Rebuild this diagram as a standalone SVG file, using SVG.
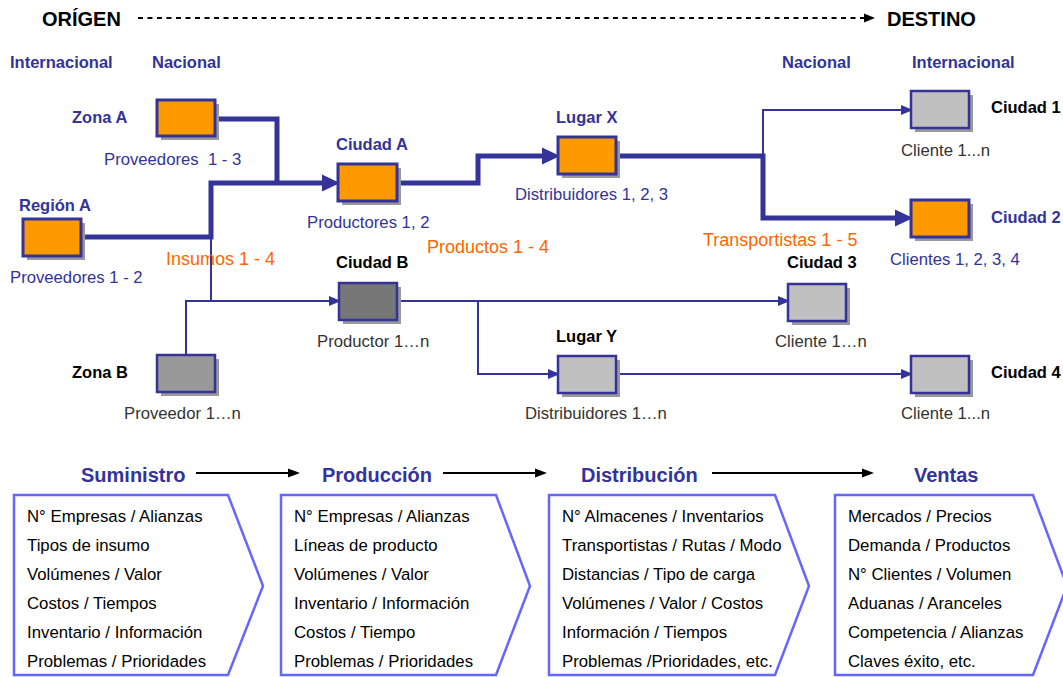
<svg xmlns="http://www.w3.org/2000/svg" width="1063" height="677" viewBox="0 0 1063 677">
<defs>
<style>
text{font-family:"Liberation Sans",Arial,sans-serif;}
.h{font-size:20px;font-weight:bold;fill:#000;}
.lvl{font-size:16.5px;font-weight:bold;fill:#333399;}
.nb{font-size:16.5px;font-weight:bold;fill:#333399;}
.nk{font-size:16.5px;font-weight:bold;fill:#000;}
.sb{font-size:16.7px;fill:#333399;}
.sg{font-size:16.7px;fill:#333333;}
.or{font-size:18px;fill:#FF6600;}
.st{font-size:20px;font-weight:bold;fill:#333399;}
.it{font-size:16.8px;fill:#000;}
.sh{fill:#999999;}
.bo{fill:#FF9900;stroke:#333399;stroke-width:3;}
.bg{fill:#C0C0C0;stroke:#333399;stroke-width:2.5;}
.bz{fill:#999999;stroke:#333399;stroke-width:2.5;}
.bd{fill:#777777;stroke:#333399;stroke-width:2.5;}
.thick{fill:none;stroke:#333399;stroke-width:5;marker-end:url(#ah);}
.thickn{fill:none;stroke:#333399;stroke-width:5;}
.thin{fill:none;stroke:#333399;stroke-width:2;marker-end:url(#as);}
.thinn{fill:none;stroke:#333399;stroke-width:2;}
.chev{fill:#fff;stroke:#6666FF;stroke-width:2.5;stroke-linejoin:miter;}
.blk{fill:none;stroke:#000;stroke-width:2;marker-end:url(#ak);}
</style>
<marker id="ah" markerUnits="userSpaceOnUse" markerWidth="18" markerHeight="18" viewBox="0 0 18 18" refX="8" refY="9" orient="auto"><path d="M0,0.5 L18,9 L0,17.5 Z" fill="#333399"/></marker>
<marker id="as" markerUnits="userSpaceOnUse" markerWidth="12" markerHeight="12" viewBox="0 0 12 12" refX="5" refY="6" orient="auto"><path d="M0,1 L12,6 L0,11 Z" fill="#333399"/></marker>
<marker id="ak" markerUnits="userSpaceOnUse" markerWidth="12" markerHeight="12" viewBox="0 0 12 12" refX="5" refY="6" orient="auto"><path d="M0,1.5 L12,6 L0,10.5 Z" fill="#000"/></marker>
</defs>
<rect width="1063" height="677" fill="#fff"/>

<g id="header">
<text class="h" x="42" y="26">ORÍGEN</text>
<line x1="138" y1="18" x2="866" y2="18" stroke="#000" stroke-width="2" stroke-dasharray="5,4.5"/>
<path d="M864,13.5 L875,18 L864,22.5 Z" fill="#000"/>
<text class="h" x="887" y="26">DESTINO</text>
<text class="lvl" x="10" y="68">Internacional</text>
<text class="lvl" x="152" y="68">Nacional</text>
<text class="lvl" x="782" y="68">Nacional</text>
<text class="lvl" x="912" y="68">Internacional</text>
</g>

<g id="connectors">
<path class="thickn" d="M215,119 H277 V183"/>
<path class="thick" d="M81,237 H211 V183 H330"/>
<path class="thick" d="M397,183 H478 V156 H550"/>
<path class="thick" d="M616,156 H763 V218 H903"/>
<path class="thin" d="M763,156 V110 H906"/>
<path class="thinn" d="M211,237 V301"/>
<path class="thin" d="M186,355 V301 H334"/>
<path class="thin" d="M397,301 H783"/>
<path class="thin" d="M478,301 V374 H553"/>
<path class="thin" d="M616,374 H906"/>
</g>

<g id="zonaA">
<rect class="sh" x="161" y="104" width="58" height="36"/>
<rect class="bo" x="157" y="100" width="58" height="36"/>
<text class="nb" x="72" y="123">Zona A</text>
<text class="sb" x="104" y="165" xml:space="preserve">Proveedores  1 - 3</text>
</g>
<g id="regionA">
<rect class="sh" x="27" y="223" width="58" height="37"/>
<rect class="bo" x="23" y="219" width="58" height="37"/>
<text class="nb" x="19" y="211">Región A</text>
<text class="sb" x="10" y="283">Proveedores 1 - 2</text>
</g>
<g id="ciudadA">
<rect class="sh" x="342" y="168" width="59" height="37"/>
<rect class="bo" x="338" y="164" width="59" height="37"/>
<text class="nb" x="336" y="150">Ciudad A</text>
<text class="sb" x="307" y="228">Productores 1, 2</text>
</g>
<g id="lugarX">
<rect class="sh" x="562" y="141" width="58" height="37"/>
<rect class="bo" x="558" y="137" width="58" height="37"/>
<text class="nb" x="556" y="123">Lugar X</text>
<text class="sb" x="515" y="200">Distribuidores 1, 2, 3</text>
</g>
<g id="ciudad1">
<rect class="sh" x="915" y="95" width="58" height="37"/>
<rect class="bg" x="911" y="91" width="58" height="37"/>
<text class="nk" x="991" y="113">Ciudad 1</text>
<text class="sg" x="901" y="156">Cliente 1...n</text>
</g>
<g id="ciudad2">
<rect class="sh" x="915" y="204" width="58" height="37"/>
<rect class="bo" x="911" y="200" width="58" height="37"/>
<text class="nb" x="991" y="223">Ciudad 2</text>
<text class="sb" x="890" y="265">Clientes 1, 2, 3, 4</text>
</g>
<g id="ciudadB">
<rect class="sh" x="343" y="287" width="58" height="37"/>
<rect class="bd" x="339" y="283" width="58" height="37"/>
<text class="nk" x="336" y="268">Ciudad B</text>
<text class="sg" x="317" y="347">Productor 1…n</text>
</g>
<g id="ciudad3">
<rect class="sh" x="792" y="288" width="58" height="37"/>
<rect class="bg" x="788" y="284" width="58" height="37"/>
<text class="nk" x="787" y="268">Ciudad 3</text>
<text class="sg" x="775" y="347">Cliente 1…n</text>
</g>
<g id="zonaB">
<rect class="sh" x="161" y="359" width="58" height="37"/>
<rect class="bz" x="157" y="355" width="58" height="37"/>
<text class="nk" x="72" y="378">Zona B</text>
<text class="sg" x="124" y="419">Proveedor 1…n</text>
</g>
<g id="lugarY">
<rect class="sh" x="562" y="360" width="58" height="37"/>
<rect class="bg" x="558" y="356" width="58" height="37"/>
<text class="nk" x="556" y="342">Lugar Y</text>
<text class="sg" x="525" y="419">Distribuidores 1…n</text>
</g>
<g id="ciudad4">
<rect class="sh" x="915" y="360" width="58" height="37"/>
<rect class="bg" x="911" y="356" width="58" height="37"/>
<text class="nk" x="991" y="378">Ciudad 4</text>
<text class="sg" x="901" y="419">Cliente 1...n</text>
</g>
<g id="orange-labels">
<text class="or" x="166" y="265">Insumos 1 - 4</text>
<text class="or" x="427" y="253">Productos 1 - 4</text>
<text class="or" x="703" y="246">Transportistas 1 - 5</text>
</g>

<g id="stage-arrows">
<path class="blk" d="M196,473 H293"/>
<path class="blk" d="M443,473 H540"/>
<path class="blk" d="M712,473 H867"/>
</g>

<g id="suministro">
<text class="st" x="81" y="482">Suministro</text>
<path class="chev" d="M14,495 H228 L263,586 L228,675 H14 Z"/>
<text class="it" x="27" y="522">N° Empresas / Alianzas</text>
<text class="it" x="27" y="551">Tipos de insumo</text>
<text class="it" x="27" y="580">Volúmenes / Valor</text>
<text class="it" x="27" y="609">Costos / Tiempos</text>
<text class="it" x="27" y="638">Inventario / Información</text>
<text class="it" x="27" y="667">Problemas / Prioridades</text>
</g>
<g id="produccion">
<text class="st" x="322" y="482">Producción</text>
<path class="chev" d="M281,495 H496 L530,586 L496,675 H281 Z"/>
<text class="it" x="294" y="522">N° Empresas / Alianzas</text>
<text class="it" x="294" y="551">Líneas de producto</text>
<text class="it" x="294" y="580">Volúmenes / Valor</text>
<text class="it" x="294" y="609">Inventario / Información</text>
<text class="it" x="294" y="638">Costos / Tiempo</text>
<text class="it" x="294" y="667">Problemas / Prioridades</text>
</g>
<g id="distribucion">
<text class="st" x="581" y="482">Distribución</text>
<path class="chev" d="M549,495 H775 L809,586 L775,675 H549 Z"/>
<text class="it" x="562" y="522">N° Almacenes / Inventarios</text>
<text class="it" x="562" y="551">Transportistas / Rutas / Modo</text>
<text class="it" x="562" y="580">Distancias / Tipo de carga</text>
<text class="it" x="562" y="609">Volúmenes / Valor / Costos</text>
<text class="it" x="562" y="638">Información / Tiempos</text>
<text class="it" x="562" y="667">Problemas /Prioridades, etc.</text>
</g>
<g id="ventas">
<text class="st" x="914" y="482">Ventas</text>
<path class="chev" d="M835,495 H1033 L1067,586 L1033,675 H835 Z"/>
<text class="it" x="848" y="522">Mercados / Precios</text>
<text class="it" x="848" y="551">Demanda / Productos</text>
<text class="it" x="848" y="580">N° Clientes / Volumen</text>
<text class="it" x="848" y="609">Aduanas / Aranceles</text>
<text class="it" x="848" y="638">Competencia / Alianzas</text>
<text class="it" x="848" y="667">Claves éxito, etc.</text>
</g>
</svg>
